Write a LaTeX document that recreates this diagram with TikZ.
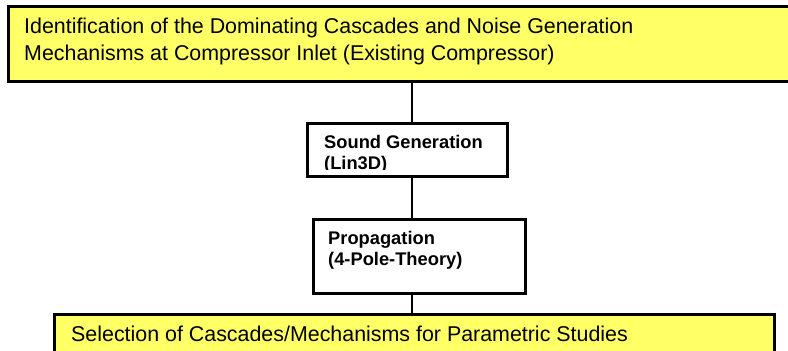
\documentclass[tikz,border=0pt]{standalone}
\usepackage{fontspec}
\setmainfont{Liberation Sans}
\usepackage{tikz}
\usetikzlibrary{positioning}
\definecolor{boxyellow}{RGB}{255,255,102}
\tikzset
{
    resultbox/.style = {rectangle, draw=black, line width=3pt, fill=boxyellow, anchor=north west, inner sep=0pt, outer sep=0pt},
    toolbox/.style   = {rectangle, draw=black, line width=3pt, fill=white, anchor=north west, inner sep=0pt, outer sep=0pt},
    plaintext/.style = {anchor=north west, inner sep=0pt, align=left, font=\fontsize{21.4}{27}\selectfont},
    tooltext/.style  = {anchor=north west, inner sep=0pt, align=left, font=\bfseries\fontsize{18.3}{21}\selectfont},
    wire/.style      = {draw=black, line width=2pt}
}

\begin{document}
\begin{tikzpicture}[x=1pt, y=1pt]
\path [use as bounding box, clip] (0,0) rectangle (788,351);
\coordinate (spine) at (412,0);
\node [resultbox, minimum width=820pt, minimum height=75pt] at (8.5,344.5) (ident) {};
\node [toolbox, minimum width=200pt, minimum height=53pt] at (307.5,227.5) (sound) {};
\node [toolbox, minimum width=212pt, minimum height=74pt] at (313.5,131.5) (prop) {};
\node [resultbox, minimum width=720pt, minimum height=40pt] at (54.5,36.5) (select) {};
\draw [wire] (spine |- ident.south) -- (spine |- sound.north);
\draw [wire] (spine |- sound.south) -- (spine |- prop.north);
\draw [wire] (spine |- prop.south) -- (spine |- select.north);
\node [plaintext] at (24,333.6) (identtext) {Identification of the Dominating Cascades and Noise Generation\\Mechanisms at Compressor Inlet (Existing Compressor)};
% second line sits low in the box and gets cut off
\begin{scope}
\clip (sound.north west) rectangle ([yshift=7pt]sound.south east);
\node [tooltext] at (324,216.3) (soundtext) {Sound Generation\\(Lin3D)};
\end{scope}
\node [tooltext] at (328,120.3) (proptext) {Propagation\\(4-Pole-Theory)};
\node [plaintext, anchor=base west] at (71,9) (selecttext) {Selection of Cascades/Mechanisms for Parametric Studies};
\end{tikzpicture}
\end{document}
